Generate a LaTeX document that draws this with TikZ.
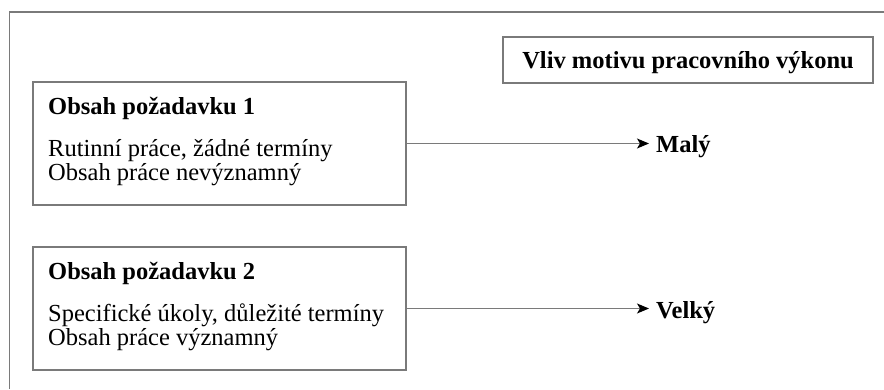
\documentclass[tikz,border=0pt]{standalone}
\usepackage{fontspec}
\setmainfont{Liberation Serif}
\usetikzlibrary{arrows.meta}
\begin{document}
\begin{tikzpicture}[x=1pt,y=-1pt,
  frame/.style={draw=black!52,line width=1.3pt},
  boxstyle/.style={draw=black!52,line width=1.3pt,rectangle,inner sep=0pt},
  txt/.style={anchor=base west,inner sep=0pt,font=\fontsize{24.5}{24}\selectfont},
  ttl/.style={txt,font=\fontsize{24.5}{24}\selectfont\bfseries},
  conn/.style={draw=black!52,line width=1.3pt,-{Stealth[length=12pt,width=10pt,inset=3pt,black]},shorten >=7pt}]
\useasboundingbox (0,0) rectangle (884,389);
\fill[white] (0,0) rectangle (884,389);
% outer frame (cropped)
\coordinate (ftl) at (9.5,12);
\coordinate (ftr) at (884,12);
\coordinate (fbl) at (9.5,389);
\draw[frame] (ftr) -- (ftl) -- (fbl);
% header box
\node[boxstyle,minimum width=370pt,minimum height=46pt] (head) at (688,60) {};
\node[ttl,anchor=base] (headtxt) at (688,68) {Vliv motivu pracovního výkonu};
% box 1
\node[boxstyle,minimum width=373pt,minimum height=123pt] (box1) at (219.5,143.5) {};
\node[ttl] (t1) at (48,114) {Obsah požadavku 1};
\node[txt] (a1) at (48,156) {Rutinní práce, žádné termíny};
\node[txt] (b1) at (48,180) {Obsah práce nevýznamný};
% box 2
\node[boxstyle,minimum width=373pt,minimum height=123pt] (box2) at (219.5,308.5) {};
\node[ttl] (t2) at (48,279) {Obsah požadavku 2};
\node[txt] (a2) at (48,321) {Specifické úkoly, důležité termíny};
\node[txt] (b2) at (48,345) {Obsah práce významný};
% results
\node[ttl] (maly) at (656,152) {Malý};
\node[ttl] (velky) at (656,318) {Velký};
\draw[conn] (box1.east) -- (box1.east -| maly.west);
\draw[conn] (box2.east) -- (box2.east -| velky.west);
\end{tikzpicture}
\end{document}
